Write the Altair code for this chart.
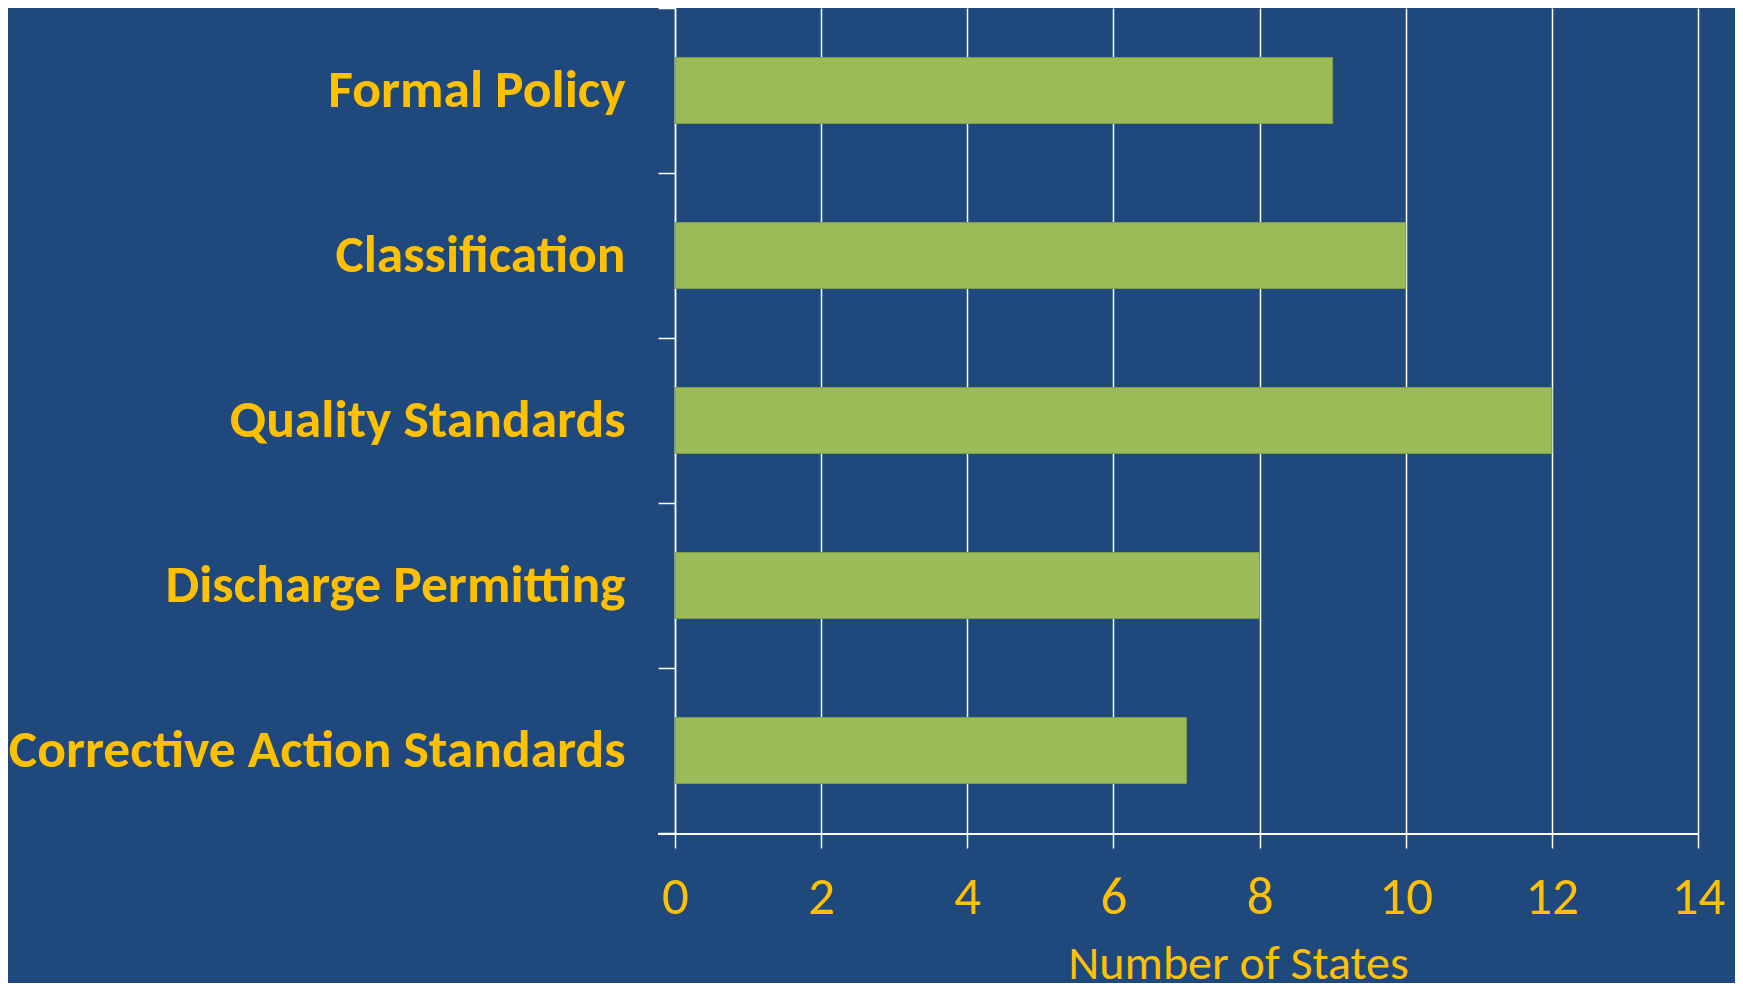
import altair as alt
import pandas as pd

categories = ["Formal Policy", "Classification", "Quality Standards",
              "Discharge Permitting", "Corrective Action Standards"]
values = [9, 10, 12, 8, 7]
x_ticks = [0, 2, 4, 6, 8, 10, 12, 14]

df = pd.DataFrame({"category": categories, "states": values})

BG = "#1F497D"
YELLOW = "#FFC000"
GREEN = "#9BBB59"
FONT = "Carlito, 'Liberation Sans Narrow', 'Open Sans', sans-serif"

W, H = 1023, 825

bars = alt.Chart(df).mark_bar(
    color=GREEN, stroke="#7F9C48", strokeWidth=1,
    height=alt.RelativeBandSize(0.4),
).encode(
    x=alt.X("states:Q",
            scale=alt.Scale(domain=[0, 14], nice=False),
            axis=alt.Axis(values=x_ticks, title="Number of States",
                          grid=True, gridColor="white", gridWidth=1.5, gridOpacity=1,
                          domain=False, ticks=True, tickColor="white", tickSize=15, tickWidth=1.5,
                          labelColor=YELLOW, labelFont=FONT, labelFontSize=53,
                          labelBaseline="alphabetic", labelPadding=65,
                          labelFlush=False, labelOverlap=False,
                          labelFontWeight="normal",
                          titleColor=YELLOW, titleFont=FONT, titleFontSize=48,
                          titleFontWeight="normal", titleX=563, titleY=145,
                          titleAlign="center", titleBaseline="alphabetic")),
    y=alt.Y("category:N", sort=categories,
            scale=alt.Scale(paddingInner=0, paddingOuter=0),
            axis=alt.Axis(title=None, domain=True, domainColor="white", domainWidth=1.5,
                          ticks=True, tickColor="white", tickSize=17, tickWidth=1.5,
                          tickBand="extent", grid=False,
                          labelColor=YELLOW, labelFont=FONT, labelFontSize=53.5,
                          labelFontWeight="bold", labelPadding=33, labelLimit=0)),
)

axis_line = alt.Chart(df).mark_rule(color="white", strokeWidth=2).encode(
    x=alt.value(-17), x2=alt.value(W), y=alt.value(H + 1)
)

chart = alt.layer(bars, axis_line).properties(
    width=W, height=H,
    background=BG,
    padding={"left": 667, "top": 0, "right": 37, "bottom": 150},
    autosize=alt.AutoSizeParams(type="none"),
).configure_view(stroke=None)

chart.save("out.html", embed_options={"renderer": "svg", "actions": False})
